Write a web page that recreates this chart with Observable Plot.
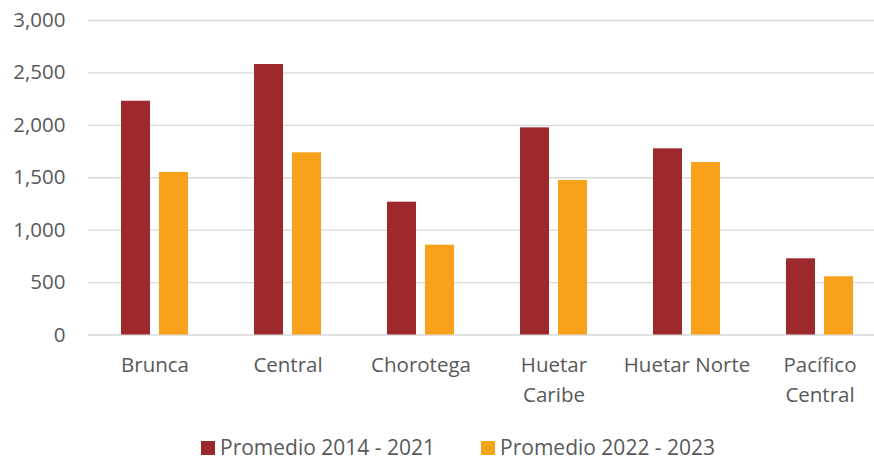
<!DOCTYPE html>
<html>
<head>
<meta charset="utf-8">
<script src="https://cdn.jsdelivr.net/npm/d3@7"></script>
<script src="https://cdn.jsdelivr.net/npm/@observablehq/plot@0.6"></script>
<style>
  html, body { margin: 0; padding: 0; background: #fff; overflow: hidden; }
  #chart { width: 874px; height: 460px; font-family: "Open Sans", sans-serif; }
  .legend { display: flex; align-items: center; height: 26px; margin-left: 201px; font-size: 21px; color: #595959; }
  .legend .item { display: flex; align-items: center; margin-right: 46px; }
  .legend .sw { width: 14px; height: 14px; margin-right: 5px; margin-top: 2px; }
</style>
</head>
<body>
<div id="chart"></div>
<script>
const regions = ["Brunca", "Central", "Chorotega", "Huetar Caribe", "Huetar Norte", "Pacífico Central"];
const regionLabels = ["Brunca", "Central", "Chorotega", "Huetar\nCaribe", "Huetar Norte", "Pacífico\nCentral"];
const series = ["Promedio 2014 - 2021", "Promedio 2022 - 2023"];
const colors = ["#9e292c", "#f8a11a"];
const values2014_2021 = [2230, 2580, 1267, 1976, 1776, 727];
const values2022_2023 = [1550, 1738, 857, 1474, 1645, 555];
const yTicks = [0, 500, 1000, 1500, 2000, 2500, 3000];

const data = [];
regions.forEach((r, i) => {
  data.push({region: r, series: series[0], value: values2014_2021[i]});
  data.push({region: r, series: series[1], value: values2022_2023[i]});
});
const labelOf = new Map(regions.map((r, i) => [r, regionLabels[i]]));

const plot = Plot.plot({
  width: 874,
  height: 434,
  marginLeft: 88,
  marginRight: -12,
  marginTop: 20,
  marginBottom: 99.5,
  style: {fontFamily: "Open Sans, sans-serif", fontSize: "20.5px", color: "#595959", overflow: "hidden", background: "#fff"},
  fx: {domain: regions, padding: 0, label: null},
  x: {domain: series, paddingInner: 0.224, paddingOuter: 0.862, axis: null},
  y: {domain: [0, 3000], label: null},
  color: {domain: series, range: colors},
  marks: [
    Plot.ruleY(yTicks, {stroke: "#d9d9d9", strokeWidth: 1.3}),
    Plot.barY(data, {fx: "region", x: "series", y: "value", fill: "series"}),
    Plot.axisY({ticks: yTicks, tickFormat: d3.format(","), tickSize: 0, tickPadding: 23, fill: "#595959", label: null}),
    Plot.axisFx({anchor: "bottom", tickSize: 0, tickPadding: 16, tickFormat: d => labelOf.get(d), lineHeight: 1.46, fill: "#595959", label: null})
  ]
});
document.getElementById("chart").appendChild(plot);

const legend = document.createElement("div");
legend.className = "legend";
series.forEach((s, i) => {
  const item = document.createElement("div");
  item.className = "item";
  const sw = document.createElement("span");
  sw.className = "sw";
  sw.style.background = colors[i];
  const t = document.createElement("span");
  t.textContent = s;
  item.appendChild(sw);
  item.appendChild(t);
  legend.appendChild(item);
});
document.getElementById("chart").appendChild(legend);
</script>
</body>
</html>
